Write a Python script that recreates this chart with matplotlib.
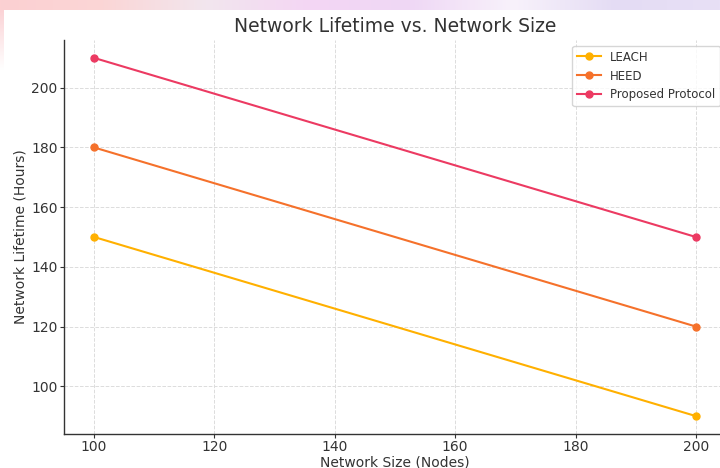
import numpy as np
import matplotlib
matplotlib.use("Agg")
import matplotlib.pyplot as plt
from matplotlib.colors import LinearSegmentedColormap

network_size = [100, 200]
leach = [150, 90]
heed = [180, 120]
proposed = [210, 150]
series_names = ["LEACH", "HEED", "Proposed Protocol"]
colors = ["#FFB000", "#F5712B", "#EC3A62"]

W, H = 720, 468
fig = plt.figure(figsize=(W / 100, H / 100), dpi=100)
fig.patch.set_facecolor("white")

# background strip at top (screenshot backdrop)
bg = fig.add_axes([0, 1 - 10 / H, 1, 10 / H], zorder=-5)
cmap = LinearSegmentedColormap.from_list(
    "bgc", ["#fcd0d2", "#fbd6d6", "#f2e6ee", "#f4d6f4", "#efd8f5", "#f8f2fb", "#e4dcf4", "#e8e0f6"])
bg.imshow(np.linspace(0, 1, 256)[None, :], aspect="auto", cmap=cmap, extent=[0, 1, 0, 1])
bg.axis("off")
lb = fig.add_axes([0, 1 - 70 / H, 4 / W, 60 / H], zorder=-5)
cmap2 = LinearSegmentedColormap.from_list("l", ["#ffffff", "#fbd3d6"])
lb.imshow(np.linspace(0, 1, 64)[:, None], aspect="auto", cmap=cmap2, extent=[0, 1, 0, 1], origin="lower")
lb.axis("off")

ax = fig.add_axes([64 / W, 1 - 434 / H, (726 - 64) / W, (434 - 40) / H])
ax.set_facecolor("white")

for vals, name, c in zip([leach, heed, proposed], series_names, colors):
    ax.plot(network_size, vals, marker="o", color=c, label=name, linewidth=1.5, markersize=5)

ax.set_xlim(95, 205)
ax.set_ylim(84, 216)
ax.set_xticks([100, 120, 140, 160, 180, 200])
ax.set_yticks([100, 120, 140, 160, 180, 200])
ax.grid(True, linestyle="--", color="#dcdcdc", linewidth=0.7)
ax.set_axisbelow(True)
for s in ["top", "right"]:
    ax.spines[s].set_visible(False)
for s in ["left", "bottom"]:
    ax.spines[s].set_color("#333333")
    ax.spines[s].set_linewidth(1.0)
ax.tick_params(labelsize=10, colors="#333333", length=3, pad=1.5)

text_c = "#333333"
ax.set_title("Network Lifetime vs. Network Size", fontsize=13.5, color=text_c, pad=6)
ax.set_xlabel("Network Size (Nodes)", fontsize=10, color=text_c, labelpad=1.2)
ax.set_ylabel("Network Lifetime (Hours)", fontsize=10, color=text_c, labelpad=3)
leg = ax.legend(loc="upper right", fontsize=8.5, frameon=True, borderpad=0.4,
                labelspacing=0.5, bbox_to_anchor=(1.0, 1.0))
leg.get_frame().set_edgecolor("#cccccc")
for t in leg.get_texts():
    t.set_color(text_c)

fig.savefig("out.png", dpi=100)
